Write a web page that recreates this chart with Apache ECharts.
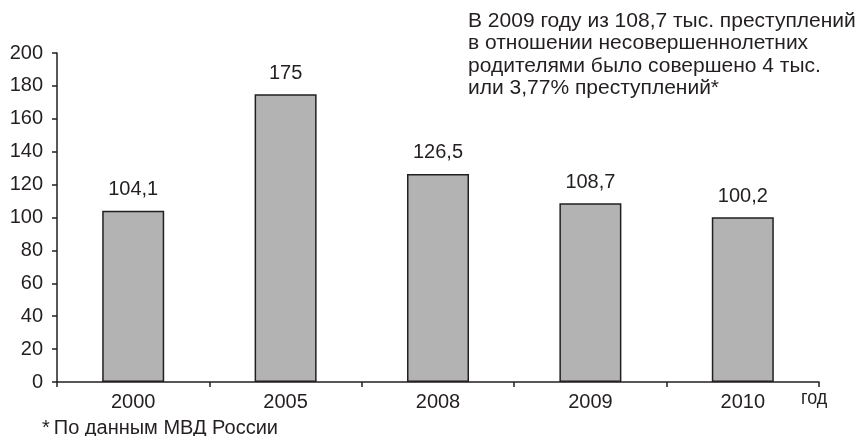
<!DOCTYPE html>
<html>
<head>
<meta charset="utf-8">
<script src="https://cdn.jsdelivr.net/npm/echarts@6/dist/echarts.min.js"></script>
<style>
  html, body { margin: 0; padding: 0; background: #fff; }
  #chart { width: 866px; height: 436px; }
</style>
</head>
<body>
<div id="chart"></div>
<script>
var years = ['2000', '2005', '2008', '2009', '2010'];
var crimes = [104.1, 175, 126.5, 108.7, 100.2];
var yTicks = { min: 0, max: 200, step: 20 };
var noteLines = [
  'В 2009 году из 108,7 тыс. преступлений',
  'в отношении несовершеннолетних',
  'родителями было совершено 4 тыс.',
  'или 3,77% преступлений*'
];
var footnote = '*\u2009По данным МВД России';
var axisUnit = 'год';

var dom = document.getElementById('chart');
var myChart = echarts.init(dom, null, { renderer: 'canvas' });
var ink = '#231f20';
var font = 'Liberation Sans, Arial, sans-serif';

var option = {
  animation: false,
  backgroundColor: '#fff',
  grid: { left: 57, right: 47, top: 53, bottom: 54 },
  xAxis: {
    type: 'category',
    data: years,
    axisLine: { lineStyle: { color: ink, width: 1.5 } },
    axisTick: { show: true, length: 5, lineStyle: { color: ink, width: 1.5 } },
    axisLabel: { color: ink, fontSize: 20, fontFamily: font, margin: 10 }
  },
  yAxis: {
    type: 'value',
    min: yTicks.min,
    max: yTicks.max,
    interval: yTicks.step,
    axisLine: { show: true, lineStyle: { color: ink, width: 1.5 } },
    axisTick: { show: true, length: 5, lineStyle: { color: ink, width: 1.5 } },
    axisLabel: { color: ink, fontSize: 20, fontFamily: font, margin: 14 },
    splitLine: { show: false }
  },
  series: [
    {
      type: 'bar',
      data: crimes,
      barWidth: 62,
      itemStyle: { color: '#b3b3b3', borderColor: ink, borderWidth: 1.5 },
      label: {
        show: true,
        position: 'top',
        distance: 11,
        color: ink,
        fontSize: 20,
        fontFamily: font,
        formatter: function (p) { return String(p.value).replace('.', ','); }
      }
    }
  ],
  graphic: [
    {
      type: 'text',
      x: 468,
      y: 10,
      style: {
        text: noteLines.join('\n'),
        fill: ink,
        font: '21px ' + font,
        lineHeight: 22.3,
        verticalAlign: 'top'
      }
    },
    {
      type: 'text',
      x: 801,
      y: 388,
      scaleX: 0.9,
      style: { text: axisUnit, fill: ink, font: '20px ' + font, verticalAlign: 'top' }
    },
    {
      type: 'text',
      x: 42,
      y: 428,
      style: { text: footnote, fill: ink, font: '20px ' + font, verticalAlign: 'middle' }
    }
  ]
};

if (option && typeof option === 'object') {
  myChart.setOption(option);
}
window.addEventListener('resize', myChart.resize);
</script>
</body>
</html>
